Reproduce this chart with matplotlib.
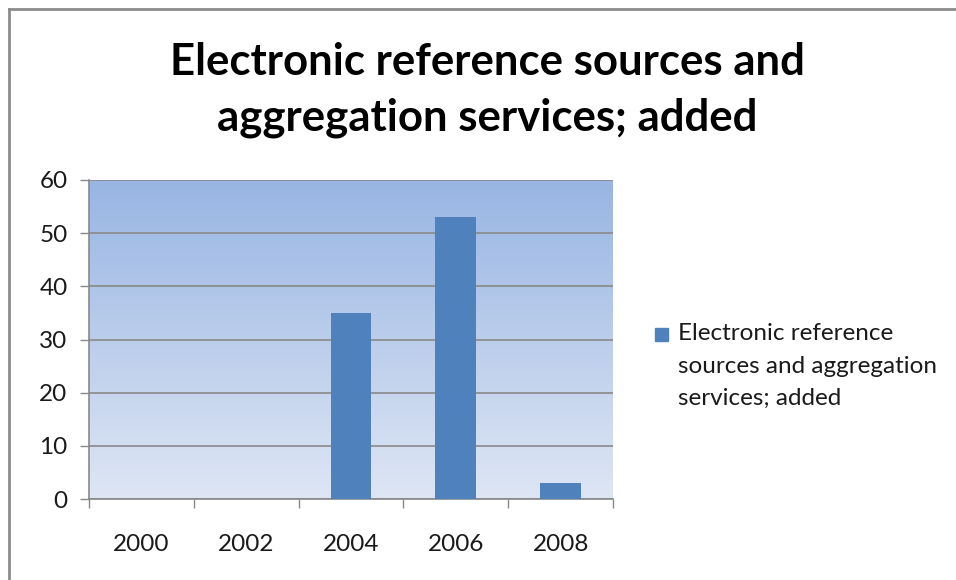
import matplotlib
matplotlib.use('Agg')
import matplotlib.pyplot as plt
import numpy as np
from matplotlib.patches import Rectangle
from matplotlib.lines import Line2D

# chart data
years = ['2000', '2002', '2004', '2006', '2008']
added = [0, 0, 35, 53, 3]
series_name = 'Electronic reference sources and aggregation services; added'
title = 'Electronic reference sources and\naggregation services; added'
legend_label = 'Electronic reference\nsources and aggregation\nservices; added'

bar_color = '#4F81BD'
grid_color = '#898989'
plt.rcParams['font.family'] = ['Lato', 'DejaVu Sans']

fig = plt.figure(figsize=(9.56, 5.8), dpi=100)
fig.patch.set_facecolor('white')

# outer chart border (left and top edges visible)
fig.add_artist(Line2D([8.5 / 956, 8.5 / 956], [0, 1 - 8.5 / 580], transform=fig.transFigure,
                      color='#8c8c8c', lw=2))
fig.add_artist(Line2D([8.5 / 956, 1], [1 - 8.5 / 580, 1 - 8.5 / 580], transform=fig.transFigure,
                      color='#8c8c8c', lw=2))

ax = fig.add_axes([89 / 956, 1 - 499 / 580, (613 - 89) / 956, (499 - 180) / 580])

# vertical gradient background of the plot area
top = np.array([152, 181, 227]) / 255
bottom = np.array([222, 230, 244]) / 255
t = np.linspace(0, 1, 256)[:, None]
grad = (top * (1 - t) + bottom * t)[:, None, :]
ax.imshow(grad, extent=[0, 1, 0, 1], transform=ax.transAxes, aspect='auto', zorder=0)

x = np.arange(len(years))
ax.bar(x, added, width=0.39, color=bar_color, zorder=3)

ax.set_xlim(-0.5, len(years) - 0.5)
ax.set_ylim(0, 60)
ax.set_yticks(range(0, 61, 10))
ax.yaxis.grid(True, color=grid_color, lw=1.2, zorder=2)
ax.set_axisbelow(False)

# category boundaries as tick marks, labels centred in categories
ax.set_xticks(np.arange(-0.5, len(years), 1.0))
ax.set_xticklabels([])
ax.set_xticks(x, minor=True)
ax.set_xticklabels(years, minor=True)
ax.tick_params(axis='x', which='major', length=6.5, width=1, color=grid_color, direction='out')
ax.tick_params(axis='x', which='minor', length=0, pad=25, labelsize=17.5, labelcolor='#1a1a1a')
ax.tick_params(axis='y', length=6.5, width=1, color=grid_color, pad=9, labelsize=17.5,
               labelcolor='#1a1a1a')

for side in ['top', 'right']:
    ax.spines[side].set_visible(False)
for side in ['left', 'bottom']:
    ax.spines[side].set_color(grid_color)
    ax.spines[side].set_linewidth(1.2)

fig.text(0.51, 1 - 90 / 580, title, ha='center', va='center', fontsize=31.5,
         fontweight='bold', linespacing=1.45)

# legend: marker aligned with the first line of text
fig.add_artist(Rectangle((655 / 956, 1 - 341 / 580), 13 / 956, 13 / 580,
                         transform=fig.transFigure, color=bar_color))
fig.text(678 / 956, 1 - 323 / 580, legend_label, ha='left', va='top', fontsize=17.5,
         color='#1a1a1a', linespacing=1.68)

fig.savefig('out.png', dpi=100)
